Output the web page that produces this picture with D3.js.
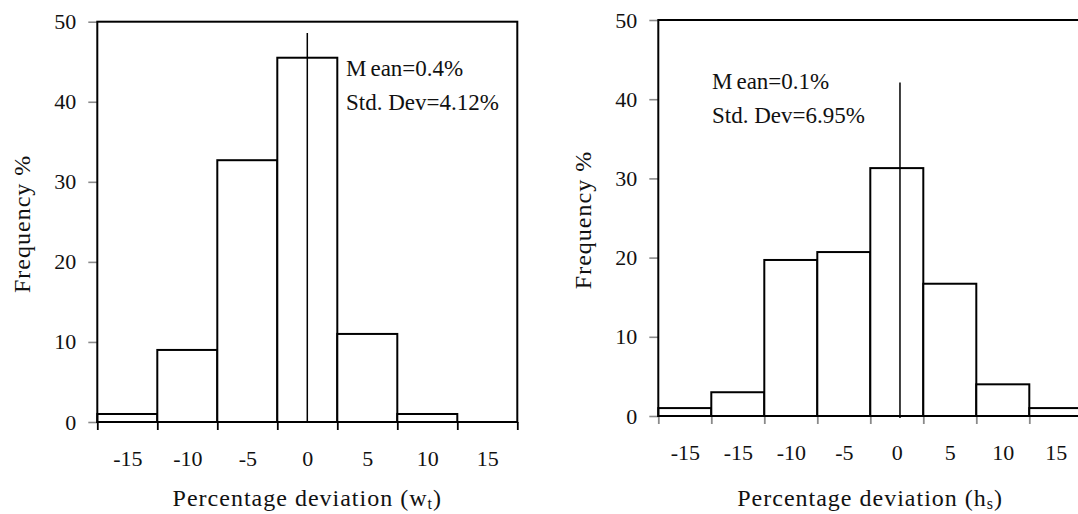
<!DOCTYPE html>
<html>
<head>
<meta charset="utf-8">
<script src="https://cdn.jsdelivr.net/npm/d3@7/dist/d3.min.js"></script>
<style>
  html, body { margin: 0; padding: 0; background: #fff; }
  svg { display: block; }
</style>
</head>
<body>
<svg id="chart" width="1078" height="514"></svg>
<script>
// ---- data ----
const binWidth = 5;
const yTicks = [0, 10, 20, 30, 40, 50];

const leftCenters = [-15, -10, -5, 0, 5, 10, 15];
const leftLabels  = ["-15", "-10", "-5", "0", "5", "10", "15"];
const leftFreq    = [1.0, 9.0, 32.7, 45.5, 11.0, 1.0, 0];
const leftMeanX   = 0;
const leftMeanTop = 48.6;
const leftStats   = ["Mean=0.4%", "Std. Dev=4.12%"];
const leftVar     = ["w", "t"];

const rightCenters = [-20, -15, -10, -5, 0, 5, 10, 15];
const rightLabels  = ["-15", "-15", "-10", "-5", "0", "5", "10", "15"];
const rightFreq    = [1.0, 3.0, 19.7, 20.7, 31.3, 16.7, 4.0, 1.0];
const rightMeanX   = 0.3;
const rightMeanTop = 42.1;
const rightStats   = ["Mean=0.1%", "Std. Dev=6.95%"];
const rightVar     = ["h", "s"];

const FONT = "'Liberation Serif', 'Times New Roman', serif";
const svg = d3.select("#chart");

function drawPanel(cfg) {
  const {centers, labels, freq, meanX, meanTop, stats, varName,
         left, binPx, top, base, statX, statY, xTickColor, meanExt, titleY} = cfg;
  const xmin = centers[0] - binWidth / 2;
  const xmax = centers[centers.length - 1] + binWidth / 2;
  const right = left + binPx * centers.length;
  const x = d3.scaleLinear().domain([xmin, xmax]).range([left, right]);
  const y = d3.scaleLinear().domain([0, 50]).range([base, top]);
  const g = svg.append("g");

  // y axis ticks + labels
  const ya = g.append("g").attr("transform", `translate(${left},0)`)
    .call(d3.axisLeft(y).tickValues(yTicks).tickSize(9).tickPadding(12));
  ya.select(".domain").remove();
  ya.selectAll(".tick line").attr("stroke", "#8a8a8a").attr("stroke-width", 1.6);
  ya.selectAll(".tick text").attr("fill", "#111")
    .style("font-family", FONT).style("font-size", "22px");

  // x axis: tick marks at bin edges
  const edges = centers.map(c => c - binWidth / 2).concat([xmax]);
  const xa = g.append("g").attr("transform", `translate(0,${base})`)
    .call(d3.axisBottom(x).tickValues(edges).tickSize(8).tickFormat(""));
  xa.select(".domain").remove();
  xa.selectAll(".tick line").attr("stroke", xTickColor).attr("stroke-width", 1.8);

  // x labels at bin centers
  const xl = g.append("g").attr("transform", `translate(0,${base})`)
    .call(d3.axisBottom(x).tickValues(centers).tickSize(0).tickPadding(28)
      .tickFormat((d, i) => labels[i]));
  xl.select(".domain").remove();
  xl.selectAll(".tick text").attr("fill", "#111")
    .style("font-family", FONT).style("font-size", "22px");

  // bars
  g.append("g").selectAll("rect").data(freq).join("rect")
    .attr("x", (d, i) => x(centers[i] - binWidth / 2))
    .attr("width", (d, i) => x(centers[i] + binWidth / 2) - x(centers[i] - binWidth / 2))
    .attr("y", d => y(d))
    .attr("height", d => y(0) - y(d))
    .attr("fill", "#fff").attr("stroke", "#000").attr("stroke-width", 2);

  // frame
  g.append("rect").attr("x", left).attr("y", top)
    .attr("width", right - left).attr("height", base - top)
    .attr("fill", "none").attr("stroke", "#000").attr("stroke-width", 2);

  // mean line
  g.append("line")
    .attr("x1", x(meanX)).attr("x2", x(meanX))
    .attr("y1", y(meanTop)).attr("y2", y(0) + meanExt)
    .attr("stroke", "#000").attr("stroke-width", 1.5);

  // stats text
  const st = g.append("g");
  const t1 = st.append("text").attr("x", statX).attr("y", statY)
    .attr("fill", "#111").style("font-family", FONT).style("font-size", "23px");
  t1.append("tspan").text(stats[0].slice(0, 1));
  t1.append("tspan").attr("dx", 4).text(stats[0].slice(1));
  st.append("text").attr("x", statX).attr("y", statY + 34)
    .attr("fill", "#111").style("font-family", FONT).style("font-size", "23px")
    .text(stats[1]);

  // axis titles
  const cx = (left + Math.min(right, 1082)) / 2;
  const xt = g.append("text").attr("x", cx).attr("y", titleY)
    .attr("text-anchor", "middle").attr("fill", "#111")
    .style("font-family", FONT).style("font-size", "24px").style("letter-spacing", "1px");
  xt.append("tspan").text("Percentage deviation (" + varName[0]);
  xt.append("tspan").style("font-size", "16px").attr("dy", 3).text(varName[1]);
  xt.append("tspan").attr("dy", -3).text(")");

  g.append("text")
    .attr("transform", `translate(${left - 67},${(top + base) / 2 + 2}) rotate(-90)`)
    .attr("text-anchor", "middle").attr("fill", "#111")
    .style("font-family", FONT).style("font-size", "24px").style("letter-spacing", "1px")
    .text("Frequency %");
}

drawPanel({
  centers: leftCenters, labels: leftLabels, freq: leftFreq,
  meanX: leftMeanX, meanTop: leftMeanTop, stats: leftStats, varName: leftVar,
  left: 97.3, binPx: 60, top: 21.7, base: 422,
  statX: 346, statY: 76, xTickColor: "#000", meanExt: 0, titleY: 506
});

drawPanel({
  centers: rightCenters, labels: rightLabels, freq: rightFreq,
  meanX: rightMeanX, meanTop: rightMeanTop, stats: rightStats, varName: rightVar,
  left: 658.3, binPx: 53, top: 20, base: 416,
  statX: 712, statY: 89, xTickColor: "#8a8a8a", meanExt: 2, titleY: 506
});
</script>
</body>
</html>
